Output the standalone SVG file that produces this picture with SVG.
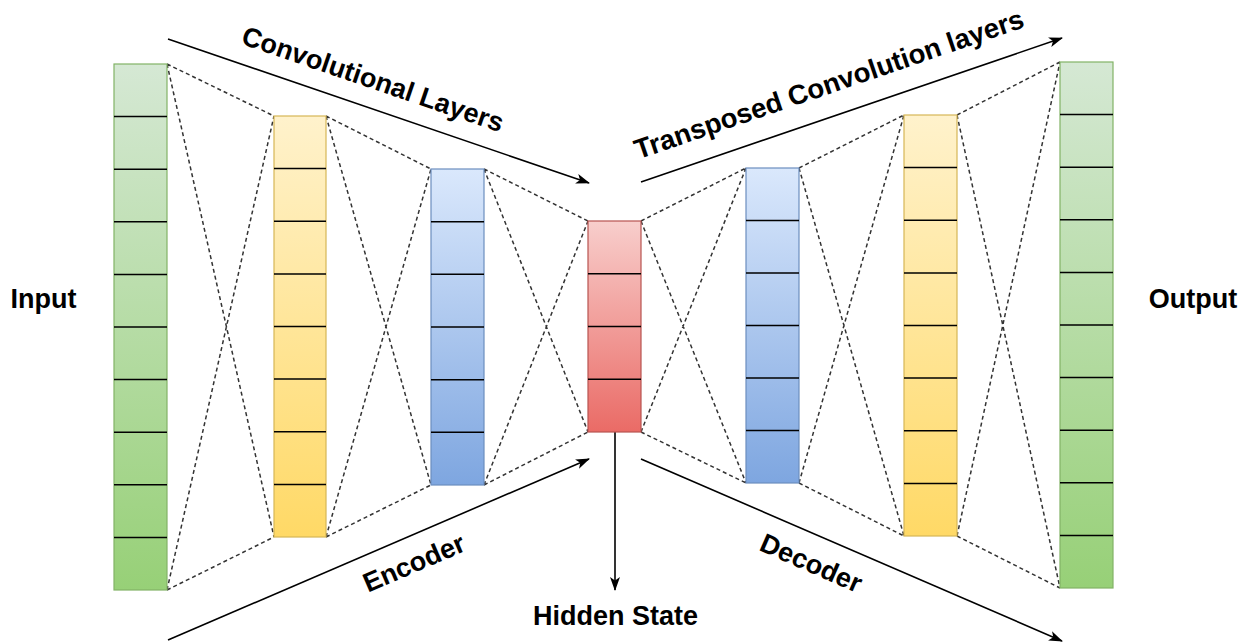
<svg xmlns="http://www.w3.org/2000/svg" width="1249" height="643" viewBox="0 0 1249 643">
  <style>
    .lbl { font-family: "Liberation Sans", Arial, Helvetica, sans-serif; font-weight: bold; font-size: 27px; fill: #000; }
    .sep { stroke: #000; stroke-width: 1.5; }
    .dash { fill: none; stroke: #333; stroke-width: 1.5; stroke-dasharray: 4 3; }
    .arrow { fill: none; stroke: #000; stroke-width: 1.6; marker-end: url(#ah); }
  </style>
  <defs>
    <linearGradient id="gGreen" x1="0" y1="0" x2="0" y2="1">
      <stop offset="0" stop-color="#d5e8d4"/>
      <stop offset="1" stop-color="#97d077"/>
    </linearGradient>
    <linearGradient id="gYellow" x1="0" y1="0" x2="0" y2="1">
      <stop offset="0" stop-color="#fff2cc"/>
      <stop offset="1" stop-color="#ffd966"/>
    </linearGradient>
    <linearGradient id="gBlue" x1="0" y1="0" x2="0" y2="1">
      <stop offset="0" stop-color="#dae8fc"/>
      <stop offset="1" stop-color="#7ea6e0"/>
    </linearGradient>
    <linearGradient id="gRed" x1="0" y1="0" x2="0" y2="1">
      <stop offset="0" stop-color="#f8cecc"/>
      <stop offset="1" stop-color="#ea6b66"/>
    </linearGradient>
    <marker id="ah" viewBox="0 0 14 10" refX="13" refY="5" markerWidth="14" markerHeight="10" markerUnits="userSpaceOnUse" orient="auto">
      <path d="M0,0 L14,5 L0,10 L3.5,5 z" fill="#000"/>
    </marker>
  </defs>

  <g id="connectors">
    <path class="dash" d="M167,64 L274,116 M167,590 L274,537 M167,64 L274,537 M167,590 L274,116
      M326,116 L431,169 M326,537 L431,485 M326,116 L431,485 M326,537 L431,169
      M484,169 L588,221 M484,485 L588,432 M484,169 L588,432 M484,485 L588,221
      M641,221 L746,168 M641,432 L746,483 M641,221 L746,483 M641,432 L746,168
      M799,168 L904,115 M799,483 L904,536 M799,168 L904,536 M799,483 L904,115
      M957,115 L1060,62 M957,536 L1060,588 M957,115 L1060,588 M957,536 L1060,62"/>
    <line class="arrow" x1="168" y1="39" x2="589" y2="183"/>
    <line class="arrow" x1="641" y1="182" x2="1062" y2="38"/>
    <line class="arrow" x1="168" y1="640" x2="589" y2="459"/>
    <line class="arrow" x1="641" y1="459" x2="1062" y2="641"/>
    <line class="arrow" x1="615" y1="432" x2="615" y2="590"/>
  </g>

  <g id="input-layer">
    <rect x="114" y="64" width="53" height="526" fill="url(#gGreen)" stroke="#82b366" stroke-width="1.2"/>
    <path class="sep" d="M114,116.6H167M114,169.2H167M114,221.8H167M114,274.4H167M114,327H167M114,379.6H167M114,432.2H167M114,484.8H167M114,537.4H167"/>
  </g>
  <g id="enc-conv1">
    <rect x="274" y="116" width="52" height="421" fill="url(#gYellow)" stroke="#d6b656" stroke-width="1.2"/>
    <path class="sep" d="M274,168.6H326M274,221.3H326M274,273.9H326M274,326.5H326M274,379.1H326M274,431.8H326M274,484.4H326"/>
  </g>
  <g id="enc-conv2">
    <rect x="431" y="169" width="53" height="316" fill="url(#gBlue)" stroke="#6c8ebf" stroke-width="1.2"/>
    <path class="sep" d="M431,221.7H484M431,274.3H484M431,327H484M431,379.7H484M431,432.3H484"/>
  </g>
  <g id="hidden">
    <rect x="588" y="221" width="53" height="211" fill="url(#gRed)" stroke="#b85450" stroke-width="1.2"/>
    <path class="sep" d="M588,273.75H641M588,326.5H641M588,379.25H641"/>
  </g>
  <g id="dec-conv1">
    <rect x="746" y="168" width="53" height="315" fill="url(#gBlue)" stroke="#6c8ebf" stroke-width="1.2"/>
    <path class="sep" d="M746,220.5H799M746,273H799M746,325.5H799M746,378H799M746,430.5H799"/>
  </g>
  <g id="dec-conv2">
    <rect x="904" y="115" width="53" height="421" fill="url(#gYellow)" stroke="#d6b656" stroke-width="1.2"/>
    <path class="sep" d="M904,167.6H957M904,220.3H957M904,272.9H957M904,325.5H957M904,378.1H957M904,430.8H957M904,483.4H957"/>
  </g>
  <g id="output-layer">
    <rect x="1060" y="62" width="53" height="526" fill="url(#gGreen)" stroke="#82b366" stroke-width="1.2"/>
    <path class="sep" d="M1060,114.6H1113M1060,167.2H1113M1060,219.8H1113M1060,272.4H1113M1060,325H1113M1060,377.6H1113M1060,430.2H1113M1060,482.8H1113M1060,535.4H1113"/>
  </g>

  <g id="labels">
    <text class="lbl" x="43.5" y="308" text-anchor="middle">Input</text>
    <text class="lbl" x="1193" y="308" text-anchor="middle">Output</text>
    <text class="lbl" x="615.5" y="625" text-anchor="middle">Hidden State</text>
    <text class="lbl" text-anchor="middle" transform="translate(370,88) rotate(18.9)">Convolutional Layers</text>
    <text class="lbl" text-anchor="middle" transform="translate(832,93) rotate(-18.9)" style="font-size:27.5px">Transposed Convolution layers</text>
    <text class="lbl" text-anchor="middle" transform="translate(417.5,571.5) rotate(-23.3)">Encoder</text>
    <text class="lbl" text-anchor="middle" transform="translate(807.5,571.5) rotate(23.6)">Decoder</text>
  </g>
</svg>
